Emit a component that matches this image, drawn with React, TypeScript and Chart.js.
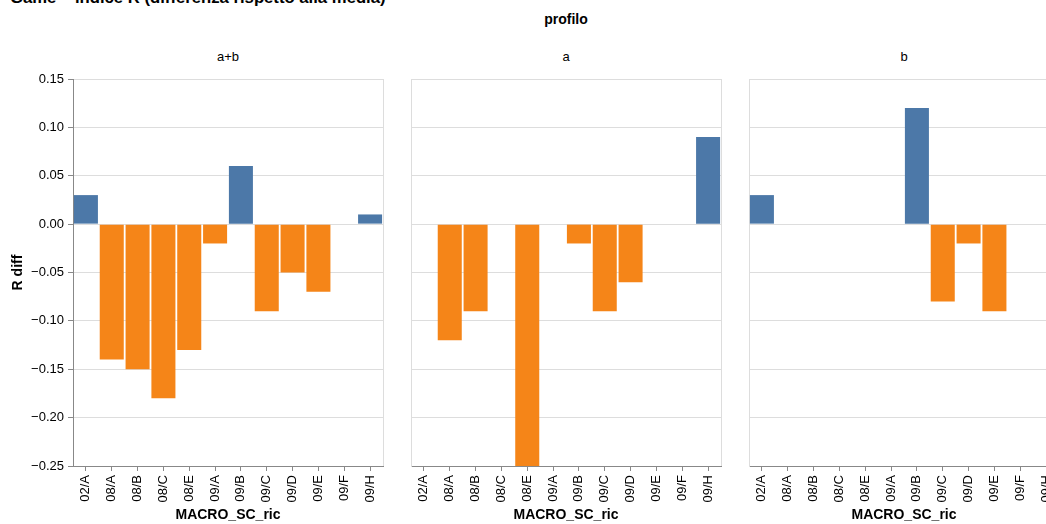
import React, { useEffect, useRef } from "react";
import { Chart, registerables } from "chart.js";

Chart.register(...registerables);

// ---------- data ----------
const categories = ["02/A", "08/A", "08/B", "08/C", "08/E", "09/A", "09/B", "09/C", "09/D", "09/E", "09/F", "09/H"];
const facetLabels = ["a+b", "a", "b"];
const valuesAB: (number | null)[] = [0.03, -0.14, -0.15, -0.18, -0.13, -0.02, 0.06, -0.09, -0.05, -0.07, null, 0.01];
const valuesA: (number | null)[] = [null, -0.12, -0.09, null, -0.25, null, -0.02, -0.09, -0.06, null, null, 0.09];
const valuesB: (number | null)[] = [0.03, null, null, null, null, null, 0.12, -0.08, -0.02, -0.09, null, null];
const yTicks = [-0.25, -0.2, -0.15, -0.1, -0.05, 0, 0.05, 0.1, 0.15];
const yMin = -0.25;
const yMax = 0.15;
const chartTitle = "Game – indice R (differenza rispetto alla media)";
const facetTitle = "profilo";
const xTitle = "MACRO_SC_ric";
const yTitle = "R diff";

// ---------- style ----------
const FONT = "'Liberation Sans', Arial, Helvetica, sans-serif";
const BLUE = "#4c78a8";
const ORANGE = "#f58518";
const W = 1046;
const H = 524;
const PLOT_TOP = 79;
const X_AXIS_H = 58;
const PLOT_W = 310;
const LABEL_SIZE = 13;
const TITLE_SIZE = 14;

const fmt = (v: number) => {
  if (Math.abs(v) < 1e-9) return "0.00";
  return v.toFixed(2).replace("-", "\u2212");
};

const viewBorder = {
  id: "viewBorder",
  beforeDraw(chart: any) {
    const { ctx, chartArea } = chart;
    const { left, top, right, bottom } = chartArea;
    ctx.save();
    ctx.strokeStyle = "#ddd";
    ctx.lineWidth = 1;
    ctx.strokeRect(Math.round(left) + 0.5, Math.round(top) + 0.5, Math.round(right - left), Math.round(bottom - top));
    ctx.restore();
  },
};

type PanelProps = {
  values: (number | null)[];
  plotLeft: number;
  showY: boolean;
};

function Panel({ values, plotLeft, showY }: PanelProps) {
  const ref = useRef<HTMLCanvasElement | null>(null);
  const yW = showY ? plotLeft : 2;
  const canvasLeft = plotLeft - yW;
  const padRight = 8;
  const canvasW = yW + PLOT_W + padRight;

  useEffect(() => {
    if (!ref.current) return;
    const chart = new Chart(ref.current, {
      type: "bar",
      data: {
        labels: categories,
        datasets: [
          {
            data: values as any,
            backgroundColor: (c: any) => ((c.raw ?? 0) >= 0 ? BLUE : ORANGE),
            barPercentage: 0.93,
            categoryPercentage: 1,
            borderWidth: 0,
          },
        ],
      },
      options: {
        animation: false,
        responsive: false,
        devicePixelRatio: 1,
        layout: { padding: { top: PLOT_TOP, right: padRight, bottom: 0, left: 0 } },
        plugins: {
          legend: { display: false },
          tooltip: { enabled: false },
          title: { display: false },
        },
        scales: {
          x: {
            type: "category",
            offset: true,
            afterFit: (s: any) => {
              s.height = X_AXIS_H;
            },
            grid: {
              display: true,
              drawOnChartArea: false,
              drawTicks: true,
              tickLength: 5,
              tickColor: "#888",
              offset: false,
            },
            border: { display: true, color: "#888" },
            ticks: {
              autoSkip: false,
              minRotation: 90,
              maxRotation: 90,
              padding: 4,
              color: "#000",
              font: { family: FONT, size: LABEL_SIZE },
            },
            title: {
              display: true,
              text: xTitle,
              color: "#000",
              font: { family: FONT, size: TITLE_SIZE, weight: "bold" },
              padding: { top: 0, bottom: 0 },
            },
          },
          y: {
            type: "linear",
            min: yMin,
            max: yMax,
            afterBuildTicks: (s: any) => {
              s.ticks = yTicks.map((value) => ({ value }));
            },
            afterFit: (s: any) => {
              s.width = yW;
            },
            grid: {
              color: "#ddd",
              drawTicks: showY,
              tickLength: 5,
              tickColor: "#888",
            },
            border: { display: true, color: showY ? "#888" : "#ddd" },
            ticks: {
              display: showY,
              padding: 4,
              color: "#000",
              font: { family: FONT, size: LABEL_SIZE },
              callback: (v: any) => fmt(Number(v)),
            },
            title: {
              display: showY,
              text: yTitle,
              color: "#000",
              font: { family: FONT, size: TITLE_SIZE, weight: "bold" },
              padding: { top: 10, bottom: 0 },
            },
          },
        },
      } as any,
      plugins: [viewBorder],
    });
    return () => chart.destroy();
  }, [values, plotLeft, showY]);

  return (
    <canvas
      ref={ref}
      width={canvasW}
      height={H}
      style={{ position: "absolute", left: canvasLeft, top: 0, width: canvasW, height: H }}
    />
  );
}

const headerStyle = (cx: number, top: number, size: number, bold: boolean): React.CSSProperties => ({
  position: "absolute",
  left: cx - 150,
  width: 300,
  top,
  textAlign: "center",
  fontFamily: FONT,
  fontSize: size,
  lineHeight: `${size}px`,
  fontWeight: bold ? "bold" : "normal",
  color: "#000",
  whiteSpace: "nowrap",
});

export default function App() {
  const plotLefts = [73, 411, 749];
  const series = [valuesAB, valuesA, valuesB];
  return (
    <div
      style={{
        position: "fixed",
        left: 0,
        top: 0,
        width: W,
        height: H,
        overflow: "hidden",
        background: "#fff",
      }}
    >
      <div
        style={{
          position: "absolute",
          left: 10,
          top: -10,
          fontFamily: FONT,
          fontSize: 16.7,
          lineHeight: "16.7px",
          fontWeight: "bold",
          color: "#000",
          whiteSpace: "nowrap",
        }}
      >
        {chartTitle}
      </div>
      <div style={headerStyle(566, 12, TITLE_SIZE, true)}>{facetTitle}</div>
      {facetLabels.map((lab, i) => (
        <div key={lab} style={headerStyle(plotLefts[i] + PLOT_W / 2, 50, LABEL_SIZE, false)}>
          {lab}
        </div>
      ))}
      {series.map((vals, i) => (
        <Panel key={i} values={vals} plotLeft={plotLefts[i]} showY={i === 0} />
      ))}
    </div>
  );
}
